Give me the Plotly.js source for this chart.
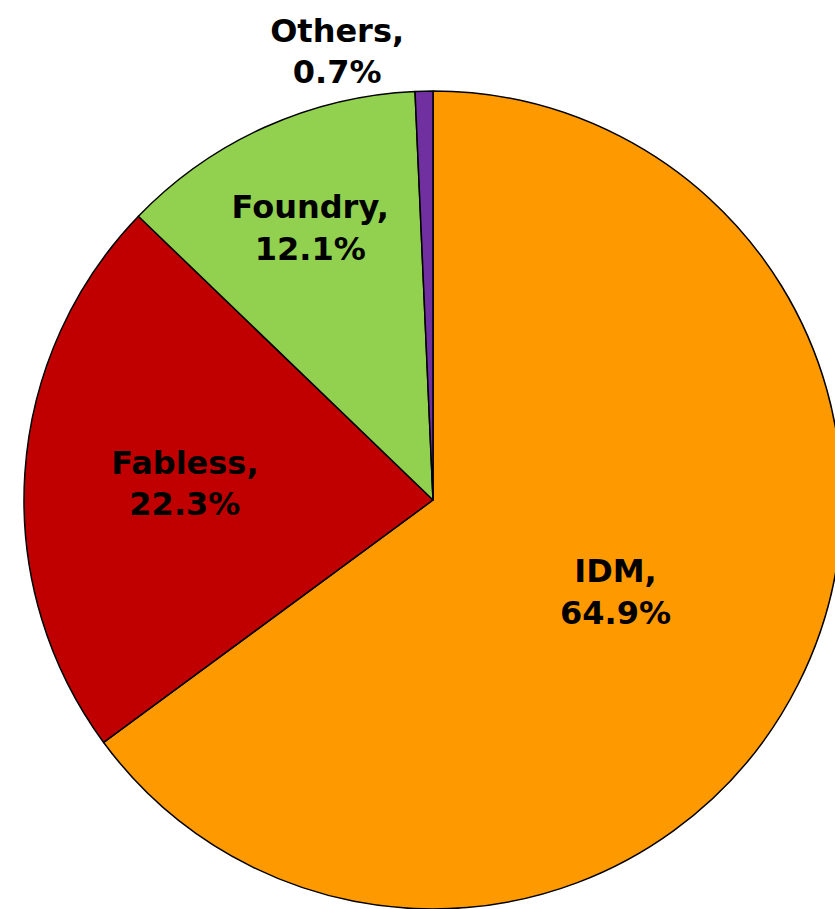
<!DOCTYPE html>
<html>
<head>
<meta charset="utf-8">
<script src="https://cdn.plot.ly/plotly-3.0.1.min.js"></script>
<style>
  html, body { margin: 0; padding: 0; background: #fff; overflow: hidden; }
</style>
</head>
<body>
<div id="chart"></div>
<script>
labels = ['IDM', 'Fabless', 'Foundry', 'Others']
shares = [64.9, 22.3, 12.1, 0.7]
colors = ['#FF9900', '#C00000', '#92D050', '#7030A0']
positions = ['inside', 'inside', 'inside', 'outside']

var trace1 = {
    type: 'pie',
    labels: labels,
    values: shares,
    sort: false,
    direction: 'clockwise',
    rotation: 0,
    marker: { colors: colors, line: { color: '#000', width: 1.5 } },
    texttemplate: '%{label},<br>%{value:.1f}%',
    textposition: positions,
    insidetextorientation: 'horizontal',
    textfont: { family: 'DejaVu Sans', size: 32, color: '#000', weight: 'bold' },
    hoverinfo: 'none',
    domain: { x: [24 / 860, 842 / 860], y: [0, 818 / 909] }
};

var layout = {
    width: 860,
    height: 909,
    margin: { l: 0, r: 0, t: 0, b: 0 },
    showlegend: false,
    paper_bgcolor: '#fff'
};

Plotly.newPlot('chart', [trace1], layout, { staticPlot: true });
</script>
</body>
</html>
